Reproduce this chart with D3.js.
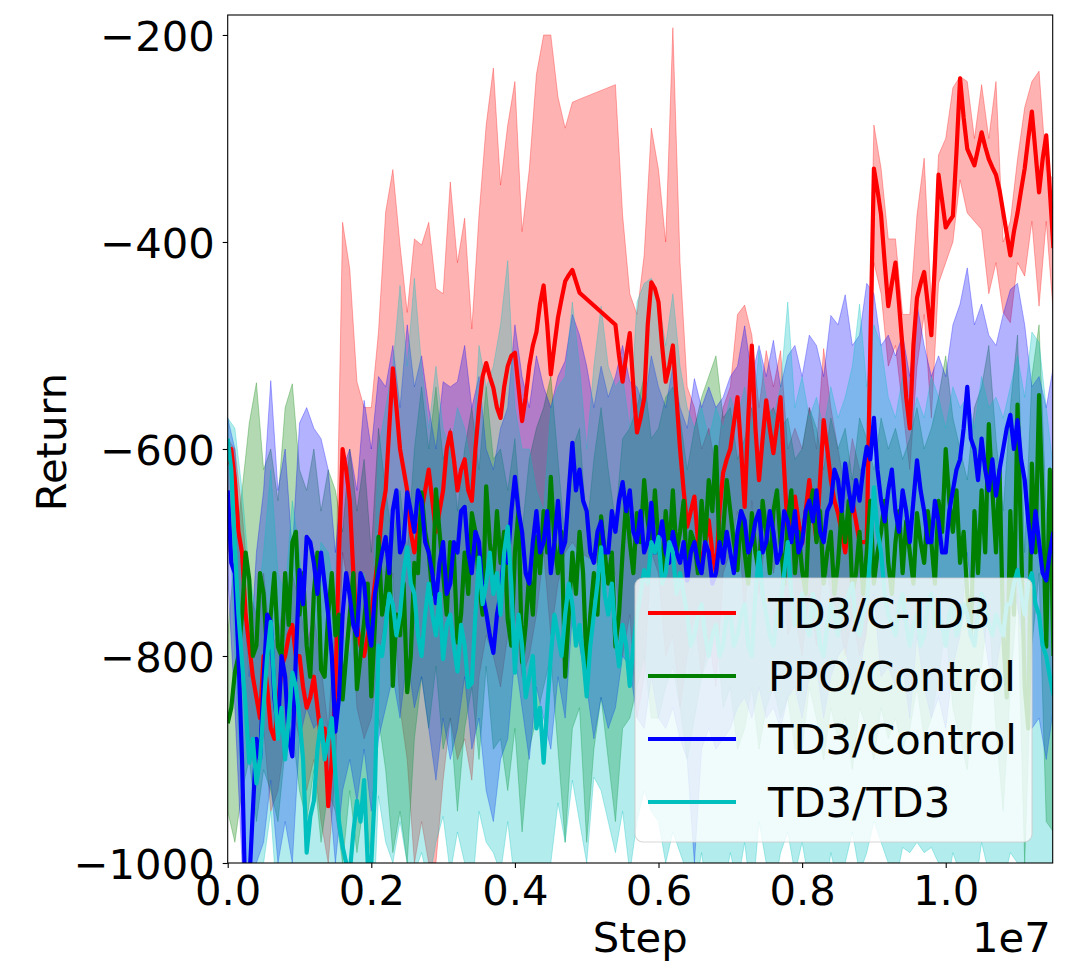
<!DOCTYPE html>
<html>
<head>
<meta charset="utf-8">
<script src="https://cdn.jsdelivr.net/npm/d3@7"></script>
<style>
  body { margin: 0; background: #fff; }
  .main { width: 1069px; height: 974px; }
</style>
</head>
<body>
<div class="main"></div>
<script>
// one sample every 1e5 steps, 116 samples (0 .. 1.15e7)
// the *Mid arrays are the mean curve read half way between two samples
const steps = d3.range(116).map(i => i * 1e5)

// TD3/C-TD3 (nulls = no data, the curve just jumps over them)
const redMean = [
  -615, -630, -700, -790, -840, -800, -870, -850, -800, -770,
  -800, -850, -820, -880, -945, -830, -600, -650, -770, -800,
  -760, -700, -640, -522, -600, -640, -700, -660, -620, -680,
  -640, -584, -640, -610, -650, -560, -517, -541, -570, -520,
  -507, -573, -520, -487, -442, -528, -473, -438, -427, -449,
  null, null, null, null, -480, -535, -488, -584, -551, -439,
  -458, -535, -500, -600, -675, -646, -714, -669, -720, -623,
  -600, -550, -656, -500, -630, -553, -604, -550, -681, -646,
  -691, -630, -688, -572, -630, -662, -700, -650, -690, -690,
  -329, -374, -462, -420, -503, -580, -454, -429, -490, -335,
  -386, -375, -242, -310, -326, -294, -320, -335, -371, -413,
  -372, -329, -274, -352, -297, -406
]
const redMid = [
  -600, -680, -760, -820, -860, -830, -880, -810, -780, -800,
  -830, -840, -850, -870, -900, -700, -620, -720, -790, -780,
  -730, -660, -580, -560, -620, -680, -680, -640, -650, -660,
  -600, -610, -620, -640, -600, -530, -530, -560, -540, -510,
  -540, -550, -500, -460, -480, -500, -455, -432, -438, null,
  null, null, null, null, -510, -510, -540, -570, -480, -445,
  -500, -520, -550, -640, -660, -690, -690, -700, -660, -610,
  -575, -600, -570, -580, -590, -580, -577, -620, -660, -670,
  -660, -660, -630, -600, -650, -680, -670, -670, -690, -500,
  -350, -420, -440, -460, -550, -500, -440, -460, -420, -360,
  -380, -313, -280, -318, -310, -308, -328, -350, -392, -390,
  -350, -300, -313, -320, -350
]
const redHi = [
  -590, -600, -660, -740, -760, -720, -790, -780, -740, -720,
  -750, -790, -760, -810, -870, -760, -381, -426, -535, -560,
  -560, -487, -371, -330, -403, -468, -397, -403, -381, -445,
  -450, -342, -420, -377, -484, -374, -287, -232, -345, -287,
  -245, -390, -330, -238, -200, -200, -260, -290, -265, -262,
  null, null, null, null, -248, -374, -450, -470, -413, -290,
  -330, -400, -193, -420, -540, -560, -600, -580, -620, -560,
  -540, -470, -461, -490, -560, -505, -540, -505, -600, -580,
  -600, -560, -600, -503, -560, -600, -640, -590, -620, -620,
  -287, -329, -397, -397, -470, -470, -374, -319, -460, -316,
  -300, -251, -240, -245, -300, -248, -300, -245, -400, -380,
  -320, -270, -245, -235, -330, -340
]
const redLo = [
  -695, -720, -790, -880, -920, -870, -950, -930, -880, -850,
  -880, -930, -900, -960, -1000, -910, -700, -740, -850, -880,
  -860, -800, -760, -720, -850, -900, -1000, -960, -1000, -1000,
  -920, -860, -900, -880, -920, -820, -780, -800, -830, -780,
  -760, -820, -800, -760, -700, -780, -730, -700, -690, -700,
  null, null, null, null, -720, -800, -760, -860, -820, -700,
  -720, -800, -780, -850, -800, -760, -820, -780, -830, -720,
  -700, -660, -760, -650, -740, -680, -720, -680, -780, -760,
  -800, -740, -790, -700, -740, -760, -800, -760, -800, -780,
  -420, -450, -520, -500, -560, -620, -520, -470, -570, -440,
  -420, -400, -340, -372, -380, -388, -450, -420, -468, -478,
  -420, -433, -380, -462, -380, -470
]

// PPO/Control
const greenMean = [
  -865, -816, -760, -726, -790, -740, -760, -791, -720, -690,
  -760, -790, -739, -813, -760, -780, -842, -760, -832, -767,
  -839, -685, -740, -829, -780, -835, -710, -642, -700, -639,
  -720, -690, -787, -700, -662, -730, -636, -720, -710, -765,
  -700, -806, -720, -685, -660, -627, -720, -820, -700, -680,
  -813, -720, -665, -730, -791, -700, -690, -662, -630, -695,
  -690, -660, -640, -680, -727, -690, -650, -630, -598, -680,
  -660, -717, -700, -662, -720, -680, -660, -690, -670, -720,
  -717, -660, -690, -730, -680, -710, -690, -740, -680, -700,
  -730, -680, -710, -690, -720, -700, -662, -710, -690, -650,
  -600, -680, -710, -740, -660, -640, -576, -700, -780, -660,
  -557, -830, -614, -548, -791, -800
]
const greenMid = [
  -850, -800, -700, -800, -720, -800, -720, -800, -770, -680,
  -720, -820, -700, -820, -720, -760, -800, -720, -800, -730,
  -770, -760, -700, -760, -730, -800, -720, -680, -740, -680,
  -760, -700, -760, -740, -680, -760, -690, -660, -680, -790,
  -660, -770, -760, -720, -700, -690, -680, -760, -740, -720,
  -760, -760, -700, -700, -760, -650, -720, -690, -670, -640,
  -720, -700, -700, -650, -680, -720, -690, -660, -700, -630,
  -690, -660, -730, -700, -650, -720, -640, -730, -640, -680,
  -740, -640, -660, -700, -740, -660, -650, -720, -740, -650,
  -700, -650, -740, -660, -670, -730, -690, -660, -730, -680,
  -650, -640, -680, -780, -720, -700, -640, -620, -840, -760,
  -690, -870, -700, -650, -620
]
const greenHi = [
  -780, -700, -640, -575, -536, -620, -600, -650, -560, -537,
  -620, -640, -600, -660, -620, -640, -680, -600, -660, -610,
  -700, -580, -640, -690, -640, -700, -600, -540, -600, -540,
  -610, -580, -660, -600, -560, -620, -540, -610, -600, -640,
  -590, -680, -610, -580, -560, -530, -610, -690, -600, -580,
  -680, -610, -560, -620, -670, -590, -580, -560, -530, -590,
  -580, -550, -540, -570, -620, -580, -550, -530, -510, -570,
  -560, -610, -590, -560, -610, -570, -560, -580, -570, -610,
  -600, -560, -580, -620, -570, -600, -580, -630, -570, -590,
  -620, -570, -600, -580, -610, -590, -560, -600, -580, -550,
  -510, -570, -600, -630, -560, -540, -500, -590, -660, -560,
  -490, -700, -530, -480, -660, -680
]
const greenLo = [
  -950, -980, -930, -900, -960, -910, -930, -960, -890, -870,
  -930, -960, -910, -980, -930, -950, -1000, -930, -990, -940,
  -1000, -860, -910, -990, -950, -1000, -880, -820, -870, -810,
  -890, -860, -950, -870, -830, -900, -810, -890, -880, -930,
  -870, -970, -890, -860, -830, -800, -890, -980, -870, -850,
  -980, -890, -840, -900, -960, -870, -860, -830, -800, -860,
  -860, -830, -810, -850, -900, -860, -820, -800, -770, -850,
  -830, -890, -870, -830, -890, -850, -830, -860, -840, -890,
  -890, -830, -860, -900, -850, -880, -860, -910, -850, -870,
  -900, -850, -880, -860, -890, -870, -830, -880, -860, -820,
  -770, -850, -880, -910, -830, -810, -750, -870, -950, -830,
  -740, -1000, -790, -720, -960, -970
]

// TD3/Control
const blueMean = [
  -640, -720, -900, -1020, -880, -823, -767, -871, -820, -897,
  -717, -685, -710, -700, -760, -873, -760, -742, -780, -730,
  -790, -720, -685, -659, -700, -642, -680, -650, -700, -749,
  -690, -730, -700, -656, -720, -690, -758, -797, -740, -710,
  -627, -680, -730, -660, -690, -720, -650, -690, -594, -620,
  -660, -710, -670, -700, -680, -632, -640, -690, -700, -652,
  -690, -700, -680, -710, -727, -690, -720, -700, -720, -710,
  -700, -680, -669, -690, -660, -690, -680, -700, -670, -660,
  -690, -650, -640, -690, -652, -630, -614, -660, -650, -598,
  -570, -650, -640, -660, -640, -690, -611, -660, -690, -670,
  -700, -640, -610, -540, -600, -590, -640, -645, -600, -567,
  -572, -630, -700, -690, -727, -680
]
const blueMid = [
  -710, -800, -1050, -950, -900, -760, -840, -800, -880, -800,
  -750, -690, -740, -730, -800, -840, -720, -770, -720, -770,
  -740, -700, -720, -640, -690, -660, -640, -690, -720, -710,
  -740, -690, -660, -700, -680, -740, -780, -760, -700, -660,
  -660, -720, -690, -700, -660, -690, -700, -640, -640, -650,
  -700, -680, -700, -660, -650, -660, -680, -660, -690, -700,
  -670, -710, -700, -690, -700, -710, -690, -730, -690, -680,
  -720, -660, -700, -670, -700, -660, -710, -660, -690, -700,
  -660, -670, -680, -660, -620, -660, -640, -630, -620, -610,
  -620, -670, -620, -680, -660, -650, -640, -690, -650, -700,
  -660, -620, -580, -590, -630, -620, -610, -620, -580, -600,
  -610, -670, -660, -720, -700
]
const blueHi = [
  -570, -600, -720, -820, -700, -640, -534, -640, -600, -700,
  -575, -560, -580, -590, -620, -700, -620, -600, -640, -553,
  -600, -530, -540, -500, -560, -480, -540, -510, -560, -600,
  -535, -540, -535, -500, -560, -530, -600, -620, -580, -560,
  -480, -530, -560, -510, -540, -560, -530, -515, -470, -490,
  -520, -560, -520, -550, -530, -500, -535, -540, -560, -510,
  -540, -560, -520, -560, -580, -532, -560, -540, -560, -550,
  -530, -520, -481, -530, -500, -530, -495, -540, -510, -500,
  -530, -490, -500, -530, -471, -480, -451, -500, -490, -440,
  -450, -500, -490, -510, -490, -530, -460, -500, -530, -510,
  -530, -480, -460, -425, -480, -460, -490, -500, -470, -446,
  -440, -480, -540, -530, -560, -520
]
const blueLo = [
  -720, -850, -1000, -1050, -1000, -980, -920, -1000, -960, -1000,
  -880, -850, -870, -860, -920, -1000, -930, -900, -940, -890,
  -950, -880, -850, -820, -860, -800, -850, -820, -870, -920,
  -860, -900, -870, -820, -890, -860, -930, -960, -900, -880,
  -800, -850, -900, -830, -860, -890, -820, -860, -760, -790,
  -830, -880, -840, -870, -850, -800, -810, -860, -870, -820,
  -860, -870, -850, -880, -900, -1000, -890, -870, -890, -880,
  -870, -850, -840, -860, -830, -860, -850, -870, -840, -830,
  -860, -820, -810, -860, -820, -800, -790, -830, -820, -770,
  -740, -820, -810, -830, -810, -860, -780, -830, -860, -840,
  -870, -810, -780, -700, -770, -760, -810, -815, -770, -740,
  -750, -800, -870, -860, -900, -850
]

// TD3/TD3
const cyanMean = [
  -590, -695, -806, -903, -923, -849, -767, -880, -900, -816,
  -860, -990, -940, -862, -880, -915, -984, -1010, -940, -920,
  -1000, -790, -770, -750, -760, -695, -740, -800, -730, -780,
  -803, -760, -815, -790, -826, -705, -730, -740, -760, -675,
  -816, -790, -820, -870, -903, -800, -780, -760, -750, -770,
  -839, -760, -695, -760, -780, -770, -829, -760, -717, -690,
  -685, -720, -700, -720, -760, -780, -750, -800, -770, -790,
  -760, -780, -750, -800, -700, -760, -790, -750, -690, -770,
  -740, -780, -760, -800, -750, -780, -760, -730, -780, -750,
  -637, -700, -760, -780, -740, -790, -760, -780, -740, -760,
  -790, -750, -770, -760, -790, -740, -770, -760, -780, -750,
  -717, -760, -720, -760, -800, -838
]
const cyanMid = [
  -620, -760, -850, -880, -900, -800, -830, -850, -860, -830,
  -900, -955, -890, -900, -860, -960, -1000, -970, -960, -1000,
  -930, -800, -740, -780, -720, -730, -780, -760, -760, -740,
  -770, -790, -770, -830, -760, -750, -700, -720, -700, -730,
  -760, -840, -800, -850, -850, -760, -800, -730, -790, -800,
  -790, -730, -740, -730, -810, -790, -790, -740, -730, -700,
  -730, -690, -740, -740, -790, -760, -780, -780, -800, -760,
  -790, -760, -790, -740, -740, -780, -760, -720, -740, -760,
  -770, -740, -790, -770, -760, -750, -740, -770, -760, -700,
  -680, -740, -770, -750, -770, -770, -790, -750, -770, -770,
  -760, -780, -750, -780, -760, -750, -780, -770, -750, -730,
  -740, -730, -750, -790, -820
]
const cyanHi = [
  -570, -580, -640, -720, -760, -700, -620, -720, -740, -650,
  -700, -800, -760, -690, -700, -740, -780, -800, -740, -720,
  -780, -600, -560, -520, -442, -520, -435, -520, -580, -520,
  -580, -600, -560, -580, -620, -500, -540, -520, -480, -418,
  -560, -600, -600, -640, -660, -560, -540, -530, -458, -520,
  -600, -520, -462, -520, -540, -530, -580, -458, -440, -435,
  -455, -500, -450, -520, -560, -580, -560, -590, -560, -580,
  -550, -570, -540, -580, -505, -550, -570, -540, -458, -560,
  -530, -570, -550, -580, -540, -570, -550, -520, -460, -540,
  -480, -500, -550, -570, -530, -580, -550, -570, -530, -550,
  -580, -540, -560, -550, -580, -530, -560, -550, -570, -540,
  -510, -550, -487, -497, -560, -620
]
const cyanLo = [
  -620, -800, -950, -1050, -1050, -1000, -950, -1050, -1050, -1000,
  -1050, -1100, -1100, -1050, -1050, -1100, -1100, -1100, -1100, -1100,
  -1100, -935, -980, -1000, -960, -1000, -1010, -990, -1020, -980,
  -955, -1010, -970, -1000, -1030, -950, -980, -990, -1010, -960,
  -1020, -1040, -1040, -1060, -1080, -1000, -942, -980, -920, -960,
  -1000, -917, -930, -960, -990, -950, -1010, -960, -930, -950,
  -960, -1000, -970, -990, -1010, -1030, -990, -1040, -1000, -1030,
  -990, -1020, -980, -1040, -960, -1000, -1030, -990, -970, -1010,
  -980, -1020, -1000, -1040, -990, -1020, -1000, -970, -1010, -990,
  -960, -980, -1000, -1020, -985, -990, -980, -990, -985, -1000,
  -1030, -990, -1010, -1000, -1030, -980, -1010, -1000, -1020, -990,
  -1000, -1010, -1000, -1020, -1040, -1060
]

const xTicks = [0, 2e6, 4e6, 6e6, 8e6, 1e7]
const yTicks = [-1000, -800, -600, -400, -200]

const series = [
  { name: "TD3/C-TD3", color: "#ff0000", mean: redMean, mid: redMid, lo: redLo, hi: redHi },
  { name: "PPO/Control", color: "#008000", mean: greenMean, mid: greenMid, lo: greenLo, hi: greenHi },
  { name: "TD3/Control", color: "#0000ff", mean: blueMean, mid: blueMid, lo: blueLo, hi: blueHi },
  { name: "TD3/TD3", color: "#00bfbf", mean: cyanMean, mid: cyanMid, lo: cyanLo, hi: cyanHi },
]

const FONT = "DejaVu Sans"
const FS = 41.7

const main = document.querySelector(".main")
const W = 1069, H = 974
const margin = { top: 15, right: 16.3, bottom: 111, left: 227.7 },
    width = W - margin.left - margin.right,
    height = H - margin.top - margin.bottom

const svg = d3.select(main)
    .append("svg")
    .attr("width", W)
    .attr("height", H)
    .append("g")
    .attr("transform", `translate(${margin.left}, ${margin.top})`)
    .style("font-family", FONT)

const x = d3.scaleLinear().domain([0, 1.149e7]).range([0, width])
const y = d3.scaleLinear().domain([-1000, -180.7]).range([height, 0])

svg.append("clipPath").attr("id", "plot-clip")
    .append("rect").attr("width", width).attr("height", height)

const plot = svg.append("g").attr("clip-path", "url(#plot-clip)")

const bandRows = s => steps
    .map((st, i) => ({ step: st, lo: s.lo[i], hi: s.hi[i] }))
    .filter(d => d.lo != null)

const meanRows = s => {
    const out = []
    steps.forEach((st, i) => {
        out.push({ step: st, v: s.mean[i] })
        if (i < s.mid.length) out.push({ step: st + 5e4, v: s.mid[i] })
    })
    return out.filter(d => d.v != null)
}

const area = d3.area()
    .x(d => x(d.step))
    .y0(d => y(d.lo))
    .y1(d => y(d.hi))

const line = d3.line()
    .x(d => x(d.step))
    .y(d => y(d.v))

// bands under every line (matplotlib draws collections below lines)
plot.selectAll(".band")
    .data(series)
    .join("path")
    .attr("class", "band")
    .attr("d", s => area(bandRows(s)))
    .attr("fill", s => s.color)
    .attr("fill-opacity", 0.3)
    .attr("stroke", s => s.color)
    .attr("stroke-opacity", 0.3)
    .attr("stroke-width", 1)

plot.selectAll(".mean")
    .data(series)
    .join("path")
    .attr("class", "mean")
    .attr("d", s => line(meanRows(s)))
    .attr("fill", "none")
    .attr("stroke", s => s.color)
    .attr("stroke-width", 4.2)
    .attr("stroke-linejoin", "round")

// axes
svg.append("g")
    .attr("transform", `translate(0, ${height})`)
    .call(d3.axisBottom(x)
        .tickValues(xTicks)
        .tickFormat(d => (d / 1e7).toFixed(1))
        .tickSize(5)
        .tickPadding(7))
    .call(g => g.select(".domain").remove())
    .attr("font-size", FS)
    .attr("font-family", FONT)
    .call(g => g.selectAll("line").attr("stroke", "#000").attr("stroke-width", 1.1))
    .call(g => g.selectAll("text").attr("fill", "#000"))

svg.append("g")
    .call(d3.axisLeft(y)
        .tickValues(yTicks)
        .tickFormat(d3.format("d"))
        .tickSize(5)
        .tickPadding(8))
    .call(g => g.select(".domain").remove())
    .attr("font-size", FS)
    .attr("font-family", FONT)
    .call(g => g.selectAll("line").attr("stroke", "#000").attr("stroke-width", 1.1))
    .call(g => g.selectAll("text").attr("fill", "#000").attr("dy", "0.38em"))

// frame
svg.append("rect")
    .attr("width", width)
    .attr("height", height)
    .attr("fill", "none")
    .attr("stroke", "#000")
    .attr("stroke-width", 1.1)

// labels
svg.append("text")
    .attr("x", width / 2)
    .attr("y", 951.7 - margin.top)
    .attr("text-anchor", "middle")
    .attr("font-size", FS)
    .text("Step")

svg.append("text")
    .attr("x", width - 2)
    .attr("y", 951.7 - margin.top)
    .attr("text-anchor", "end")
    .attr("font-size", FS)
    .text("1e7")

svg.append("text")
    .attr("transform", `translate(${65.7 - margin.left}, ${height / 2 + 3}) rotate(-90)`)
    .attr("text-anchor", "middle")
    .attr("font-size", FS)
    .text("Return")

// legend
const legend = svg.append("g")
    .attr("transform", `translate(${635 - margin.left}, ${578 - margin.top})`)

legend.append("rect")
    .attr("width", 397)
    .attr("height", 264)
    .attr("rx", 8)
    .attr("fill", "#fff")
    .attr("fill-opacity", 0.8)
    .attr("stroke", "#cccccc")
    .attr("stroke-opacity", 0.8)
    .attr("stroke-width", 1.1)

const items = legend.selectAll(".item")
    .data(series)
    .join("g")
    .attr("class", "item")
    .attr("transform", (d, i) => `translate(0, ${35 + i * 63})`)

items.append("line")
    .attr("x1", 13)
    .attr("x2", 101)
    .attr("stroke", d => d.color)
    .attr("stroke-width", 4.2)

items.append("text")
    .attr("x", 133)
    .attr("dy", "0.37em")
    .attr("font-size", FS)
    .text(d => d.name)
</script>
</body>
</html>
